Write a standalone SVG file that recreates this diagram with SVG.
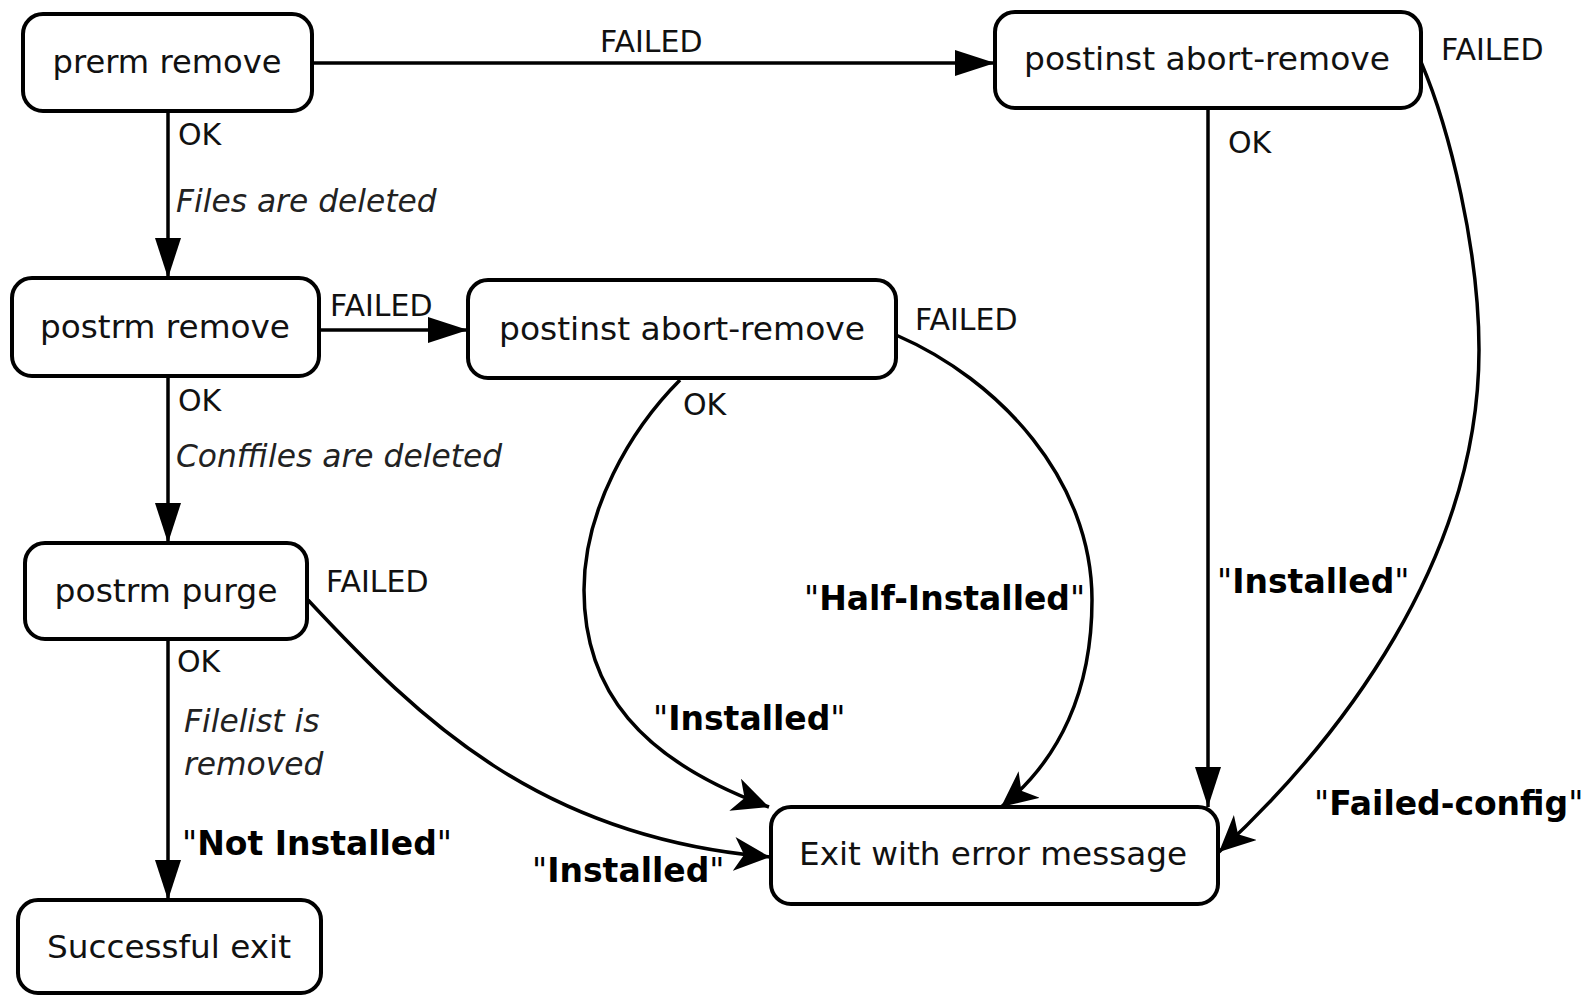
<svg xmlns="http://www.w3.org/2000/svg" width="1586" height="996" viewBox="0 0 1586 996">
<style>
.node rect{fill:#fff;stroke:#000;stroke-width:4}
.node text{font-family:"DejaVu Sans",sans-serif;font-size:32px;text-anchor:middle;fill:#111}
.edge{fill:none;stroke:#000;stroke-width:3.5}
.lbl{font-family:"DejaVu Sans",sans-serif;font-size:30px;fill:#111}
.it{font-family:"DejaVu Sans",sans-serif;font-size:31.3px;font-style:italic;fill:#222}
.bd{font-family:"DejaVu Sans",sans-serif;font-size:33px;font-weight:bold;fill:#000}
.q{font-weight:normal}
</style>
<defs>
<marker id="tri" viewBox="0 0 40 26" refX="40" refY="13" markerWidth="40" markerHeight="26" orient="auto" markerUnits="userSpaceOnUse">
<path d="M0,0 L40,13 L0,26 Z" fill="#000"/>
</marker>
<marker id="dart" viewBox="0 0 36 34" refX="36" refY="17" markerWidth="36" markerHeight="34" orient="auto" markerUnits="userSpaceOnUse">
<path d="M0,0 L36,17 L0,34 L10,17 Z" fill="#000"/>
</marker>
</defs>
<rect width="1586" height="996" fill="#fff"/>
<g id="connectors">
<path class="edge" d="M168,111 L168,278" marker-end="url(#tri)"/>
<path class="edge" d="M168,376 L168,543" marker-end="url(#tri)"/>
<path class="edge" d="M168,639 L168,900" marker-end="url(#tri)"/>
<path class="edge" d="M312,63 L995,63" marker-end="url(#tri)"/>
<path class="edge" d="M319,330 L468,330" marker-end="url(#tri)"/>
<path class="edge" d="M1208,108 L1208,807" marker-end="url(#tri)"/>
<path class="edge" d="M1421,62 C1450,130 1479,250 1479,350 C1479,560 1340,740 1219,852" marker-end="url(#dart)"/>
<path class="edge" d="M680,380 C630,430 584,510 584,590 C584,690 640,760 769,807" marker-end="url(#dart)"/>
<path class="edge" d="M896,335 C1000,380 1092,480 1092,600 C1092,690 1060,760 1001,807" marker-end="url(#dart)"/>
<path class="edge" d="M308,600 C420,720 540,838 770,857" marker-end="url(#dart)"/>
</g>
<g id="prerm-remove" class="node"><rect x="23" y="14" width="289" height="97" rx="20"/><text x="167" y="73" textLength="229" lengthAdjust="spacingAndGlyphs">prerm remove</text></g>
<g id="postrm-remove" class="node"><rect x="12" y="278" width="307" height="98" rx="20"/><text x="165" y="338" textLength="250" lengthAdjust="spacingAndGlyphs">postrm remove</text></g>
<g id="postinst-abort-remove-2" class="node"><rect x="468" y="280" width="428" height="98" rx="20"/><text x="682" y="340" textLength="366" lengthAdjust="spacingAndGlyphs">postinst abort-remove</text></g>
<g id="postinst-abort-remove-1" class="node"><rect x="995" y="12" width="426" height="96" rx="20"/><text x="1207" y="70" textLength="366" lengthAdjust="spacingAndGlyphs">postinst abort-remove</text></g>
<g id="postrm-purge" class="node"><rect x="25" y="543" width="282" height="96" rx="20"/><text x="166" y="602" textLength="223" lengthAdjust="spacingAndGlyphs">postrm purge</text></g>
<g id="successful-exit" class="node"><rect x="18" y="900" width="303" height="93" rx="20"/><text x="169" y="958" textLength="244" lengthAdjust="spacingAndGlyphs">Successful exit</text></g>
<g id="exit-error" class="node"><rect x="771" y="807" width="447" height="97" rx="20"/><text x="993" y="865" textLength="388" lengthAdjust="spacingAndGlyphs">Exit with error message</text></g>
<g id="labels">
<text class="lbl" x="600" y="52">FAILED</text>
<text class="lbl" x="1441" y="60">FAILED</text>
<text class="lbl" x="178" y="145">OK</text>
<text class="it" x="176" y="212">Files are deleted</text>
<text class="lbl" x="330" y="316">FAILED</text>
<text class="lbl" x="178" y="411">OK</text>
<text class="it" x="176" y="467">Conffiles are deleted</text>
<text class="lbl" x="915" y="330">FAILED</text>
<text class="lbl" x="683" y="415">OK</text>
<text class="lbl" x="1228" y="153">OK</text>
<text class="lbl" x="326" y="592">FAILED</text>
<text class="lbl" x="177" y="672">OK</text>
<text class="it" x="184" y="732">Filelist is</text>
<text class="it" x="184" y="775">removed</text>
<text class="bd" x="182" y="855"><tspan class="q">"</tspan>Not Installed<tspan class="q">"</tspan></text>
<text class="bd" x="804" y="610"><tspan class="q">"</tspan>Half-Installed<tspan class="q">"</tspan></text>
<text class="bd" x="653" y="730"><tspan class="q">"</tspan>Installed<tspan class="q">"</tspan></text>
<text class="bd" x="532" y="882"><tspan class="q">"</tspan>Installed<tspan class="q">"</tspan></text>
<text class="bd" x="1217" y="593"><tspan class="q">"</tspan>Installed<tspan class="q">"</tspan></text>
<text class="bd" x="1314" y="815"><tspan class="q">"</tspan>Failed-config<tspan class="q">"</tspan></text>
</g>
</svg>
